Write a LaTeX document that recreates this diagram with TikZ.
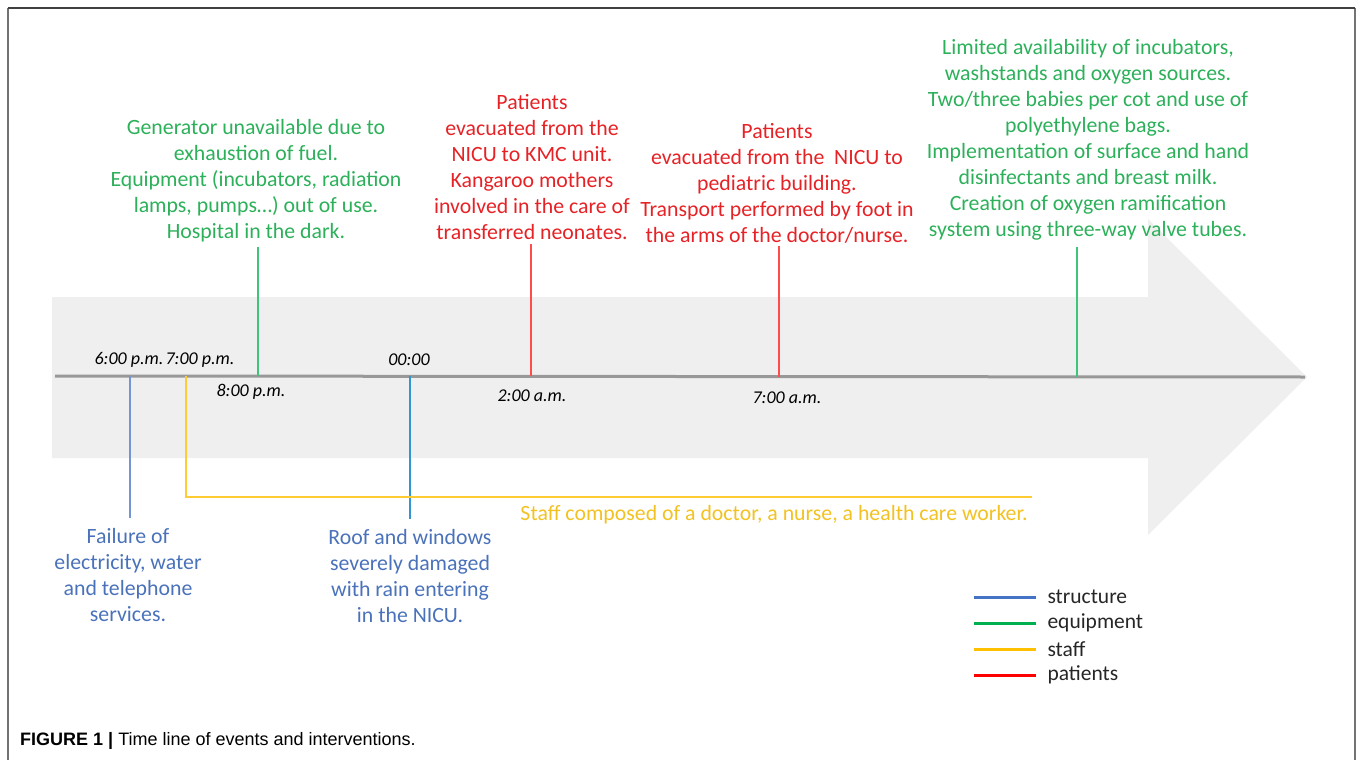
\documentclass[tikz,border=0pt]{standalone}
\usepackage{fontspec}
\setmainfont{Carlito}
\newfontfamily\capfont{Liberation Sans}
\usetikzlibrary{positioning}

\definecolor{strucblue}{RGB}{68,114,196}
\definecolor{equipgreen}{RGB}{0,176,80}
\definecolor{staffyellow}{RGB}{255,192,0}
\definecolor{patred}{RGB}{255,0,0}
\definecolor{greentxt}{RGB}{44,176,90}
\definecolor{redtxt}{RGB}{230,34,38}
\definecolor{bluetxt}{RGB}{74,114,186}
\definecolor{yellowtxt}{RGB}{242,194,34}
\definecolor{bandgray}{RGB}{239,239,239}
\definecolor{axisgray}{RGB}{152,152,152}

\tikzset{
  evtext/.style={align=center, inner sep=2pt, font=\fontsize{21.8}{26}\selectfont},
  timelbl/.style={inner sep=1pt, font=\fontsize{18}{20}\selectfont\itshape},
  tick/.style={line width=1.3pt},
  legline/.style={line width=3pt},
  legtext/.style={anchor=west, inner sep=0pt, text=black!85, font=\fontsize{21.5}{22}\selectfont}
}

\begin{document}
\begin{tikzpicture}[x=1pt,y=-1pt]
	\useasboundingbox (0,0) rectangle (1360,760);
	% frame
	\draw[black!55, line width=1.6pt] (8,760) -- (8,8) (1355,8) -- (1355,760);
	\draw[black!75, line width=1.6pt] (8,8) -- (1355,8);

	% arrow band and time axis
	\fill[bandgray] (52,297) -- (1148,297) -- (1148,219) -- (1307,377)
	                -- (1148,535) -- (1148,458) -- (52,458) -- cycle;
	\coordinate (axstart) at (55,376);
	\coordinate (axend) at (1305,377);
	\draw[axisgray, line width=3pt] (axstart) -- (axend);

	\path (130,376)  coordinate (t6pm)
	      (186,376)  coordinate (t7pm)
	      (258,376)  coordinate (t8pm)
	      (410,376)  coordinate (t0)
	      (531,376)  coordinate (t2am)
	      (779,377)  coordinate (t7am)
	      (1077,377) coordinate (tlast);

	\path (129,360) node[timelbl] (l6pm) {6:00 p.m.}
	      (200,360) node[timelbl] (l7pm) {7:00 p.m.}
	      (251,392) node[timelbl] (l8pm) {8:00 p.m.}
	      (409,360) node[timelbl] (l0)   {00:00}
	      (532,396) node[timelbl] (l2am) {2:00 a.m.}
	      (787,398) node[timelbl] (l7am) {7:00 a.m.};

	% events above the axis
	\path (256,181) node[evtext, text=greentxt] (gen)
	        {Generator unavailable due to\\exhaustion of fuel.\\Equipment (incubators, radiation\\lamps, pumps\ldots) out of use.\\Hospital in the dark.}
	      (532,167) node[evtext, text=redtxt] (kmc)
	        {Patients\\evacuated from the\\NICU to KMC unit.\\Kangaroo mothers\\involved in the care of\\transferred neonates.}
	      (777,183) node[evtext, text=redtxt] (pedi)
	        {Patients\\evacuated from the\ \ NICU to\\pediatric building.\\Transport performed by foot in\\the arms of the doctor/nurse.}
	      (1088,140) node[evtext, text=greentxt] (limit)
	        {Limited availability of incubators,\\washstands and oxygen sources.\\Two/three babies per cot and use of\\polyethylene bags.\\Implementation of surface and hand\\disinfectants and breast milk.\\Creation of oxygen ramification\\system using three-way valve tubes.};

	% events below the axis
	\path (128,575) node[evtext, text=bluetxt] (fail)
	        {Failure of\\electricity, water\\and telephone\\services.}
	      (410,576) node[evtext, text=bluetxt] (roof)
	        {Roof and windows\\severely damaged\\with rain entering\\in the NICU.}
	      (774,515) node[evtext, text=yellowtxt] (staff)
	        {Staff composed of a doctor, a nurse, a health\ care worker.};
	\coordinate (staffend) at (1032,497);

	\draw[tick, equipgreen!75!white, shorten >=2pt] (t8pm) -- (t8pm |- gen.south);
	\draw[tick, patred!70!white, shorten >=2pt] (t2am) -- (t2am |- kmc.south);
	\draw[tick, patred!70!white, shorten >=1pt] (t7am) -- (t7am |- pedi.south);
	\draw[tick, equipgreen!75!white, shorten >=4pt] (tlast) -- (tlast |- limit.south);
	\draw[tick, strucblue!75!white, shorten >=8pt] (t6pm) -- (t6pm |- fail.north);
	\draw[tick, strucblue!75!cyan, shorten >=8pt] (t0) -- (t0 |- roof.north);
	\draw[tick, staffyellow!80!white] (t7pm) -- (t7pm |- staffend) -- (staffend);

	% legend
	\foreach \name/\col [count=\i] in {structure/strucblue, equipment/equipgreen, staff/staffyellow, patients/patred} {
		\coordinate (leg\i) at (974,{571+26*\i});
		\draw[legline, \col] (leg\i) -- ++(62,0) node[legtext, right=10pt] (legtxt\i) {\name};
	}

	% caption
	\node[anchor=west, inner sep=0pt, font=\capfont\fontsize{18}{20}\selectfont] (caption) at (20,741)
	  {\textbf{FIGURE 1 |} Time line of events and interventions.};
\end{tikzpicture}
\end{document}
